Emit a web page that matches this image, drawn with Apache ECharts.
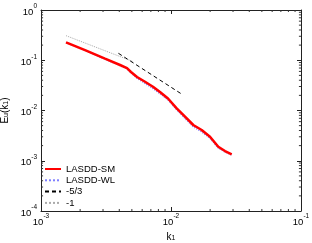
<!DOCTYPE html>
<html><head><meta charset="utf-8">
<script src="https://cdn.jsdelivr.net/npm/echarts@6/dist/echarts.min.js"></script>
<style>html,body{margin:0;padding:0;background:#fff}#c{width:312px;height:243px}</style>
</head><body><div id="c"></div>
<script>
// ---- data ----
const kSM = [0.001557, 0.002181, 0.003106, 0.004055, 0.004587, 0.004923, 0.00548, 0.00631, 0.007268, 0.008229, 0.009482, 0.01106, 0.01282, 0.01484, 0.01722, 0.01995, 0.02311, 0.02602, 0.0293];
const eSM = [0.2276, 0.1585, 0.1074, 0.0804, 0.0695, 0.0584, 0.0464, 0.0374, 0.02977, 0.02335, 0.01733, 0.01106, 0.00752, 0.005146, 0.00409, 0.003011, 0.001904, 0.001563, 0.001344];
const kWL = [0.001557, 0.002181, 0.003106, 0.004055, 0.004587, 0.004923, 0.00548, 0.00631, 0.007268, 0.008229, 0.009482, 0.01106, 0.01282, 0.01484, 0.01722, 0.01995, 0.02311, 0.02602, 0.0293];
const eWL = [0.225, 0.156, 0.105, 0.078, 0.067, 0.056, 0.0435, 0.0345, 0.0272, 0.0215, 0.0161, 0.0103, 0.0069, 0.0047, 0.00375, 0.00278, 0.00178, 0.00148, 0.00130];
const kSlope53 = [0.00394, 0.01189];
const eSlope53 = [0.1375, 0.0218];
const kSlope1 = [0.00156, 0.00513];
const eSlope1 = [0.308, 0.0937];
const seriesNames = ['LASDD-SM', 'LASDD-WL', '-5/3', '-1'];
const xMinor = [0.002,0.003,0.004,0.005,0.006,0.007,0.008,0.009,0.02,0.03,0.04,0.05,0.06,0.07,0.08,0.09];
const yMinor = [0.0002,0.0003,0.0004,0.0005,0.0006,0.0007,0.0008,0.0009,0.002,0.003,0.004,0.005,0.006,0.007,0.008,0.009,0.02,0.03,0.04,0.05,0.06,0.07,0.08,0.09,0.2,0.3,0.4,0.5,0.6,0.7,0.8,0.9];
const X_MIN = 0.001, X_MAX = 0.1, Y_MIN = 0.0001, Y_MAX = 1;

const pairs = (a,b)=>a.map((v,i)=>[v,b[i]]);
const FONT = 'Liberation Sans, Arial, Helvetica, sans-serif';
const rich = {
  b:{fontSize:9.5, fontFamily:FONT, color:'#000', lineHeight:14, verticalAlign:'bottom'},
  s:{fontSize:6.5, fontFamily:FONT, color:'#000', lineHeight:6, verticalAlign:'top'}
};
const nameRich = {
  b:{fontSize:10,fontFamily:FONT,color:'#000',lineHeight:10,verticalAlign:'top'},
  s2:{fontSize:7,fontFamily:FONT,color:'#000',lineHeight:7,verticalAlign:'bottom'}
};
const fmt = v => '{b|10}{s|' + Math.round(Math.log10(v)) + '}';
const axisLine = {show:true, lineStyle:{color:'#222', width:1}};
const TICK = '#333';

function xAx(pos, labels){
  return {type:'log', logBase:10, min:X_MIN, max:X_MAX, position:pos, gridIndex:0,
    axisLine, splitLine:{show:false}, minorTick:{show:false},
    axisTick:{show:true, inside:true, length:4, lineStyle:{color:'#222', width:1}},
    axisLabel:{show:labels, margin:2, formatter:fmt, rich},
    name: labels ? '{b|k}{s2|1}' : '', nameLocation:'middle', nameGap:17,
    nameTextStyle:{rich:nameRich}
  };
}
function yAx(pos, labels){
  return {type:'log', logBase:10, min:Y_MIN, max:Y_MAX, position:pos, gridIndex:0,
    axisLine, splitLine:{show:false}, minorTick:{show:false},
    axisTick:{show:true, inside:true, length:4, lineStyle:{color:'#222', width:1}},
    axisLabel:{show:labels, margin:4, formatter:fmt, rich},
    name: labels ? '{b|E}{s2|u}{b|(k}{s2|1}{b|)}' : '', nameLocation:'middle', nameGap:31, nameRotate:90,
    nameTextStyle:{rich:nameRich}
  };
}

// minor tick marks on all four sides, each a short two-point segment placed through the axis scales
const tickSeries = [];
function addTick(p1, p2){
  tickSeries.push({type:'line', data:[p1, p2], showSymbol:false, symbol:'none', silent:true, clip:false, z:10,
    lineStyle:{color:TICK, width:1}, emphasis:{disabled:true}});
}
const X_TICK_DEC = 0.016, Y_TICK_DEC = 0.04; // tick length expressed in decades of each axis
xMinor.forEach(v => {
  addTick([v, Y_MIN], [v, Y_MIN * Math.pow(10, Y_TICK_DEC)]);
  addTick([v, Y_MAX], [v, Y_MAX / Math.pow(10, Y_TICK_DEC)]);
});
yMinor.forEach(v => {
  addTick([X_MIN, v], [X_MIN * Math.pow(10, X_TICK_DEC), v]);
  addTick([X_MAX, v], [X_MAX / Math.pow(10, X_TICK_DEC), v]);
});

const chart = echarts.init(document.getElementById('c'), null, {renderer:'canvas'});
chart.setOption({
  animation:false,
  backgroundColor:'#fff',
  grid:{left:41, right:11, top:10, bottom:32, containLabel:false, outerBoundsMode:'none'},
  xAxis:[xAx('bottom',true), xAx('top',false)],
  yAxis:[yAx('left',true), yAx('right',false)],
  legend:{orient:'vertical', left:44, top:164, padding:0, itemWidth:16, itemHeight:8, itemGap:1.3,
    itemStyle:{color:'transparent', borderColor:'transparent', borderWidth:0, opacity:0},
    textStyle:{fontSize:9.5, lineHeight:10, fontFamily:FONT, color:'#000'},
    data:seriesNames},
  series:[
    {name:seriesNames[1], type:'line', data:pairs(kWL,eWL), showSymbol:false, symbol:'none', itemStyle:{color:'#7f7fff'}, lineStyle:{color:'#7f7fff', width:1.2, type:'dotted'}, z:2},
    {name:seriesNames[0], type:'line', data:pairs(kSM,eSM), showSymbol:false, symbol:'none', itemStyle:{color:'#ff0000'}, lineStyle:{color:'#ff0000', width:2.5}, z:3},
    {name:seriesNames[2], type:'line', data:pairs(kSlope53,eSlope53), showSymbol:false, symbol:'none', itemStyle:{color:'#000'}, lineStyle:{color:'#000', width:1, type:[4,3]}, z:4},
    {name:seriesNames[3], type:'line', data:pairs(kSlope1,eSlope1), showSymbol:false, symbol:'none', itemStyle:{color:'#aaa'}, lineStyle:{color:'#aaa', width:1, type:'dotted'}, z:1}
  ].concat(tickSeries)
});
</script></body></html>
